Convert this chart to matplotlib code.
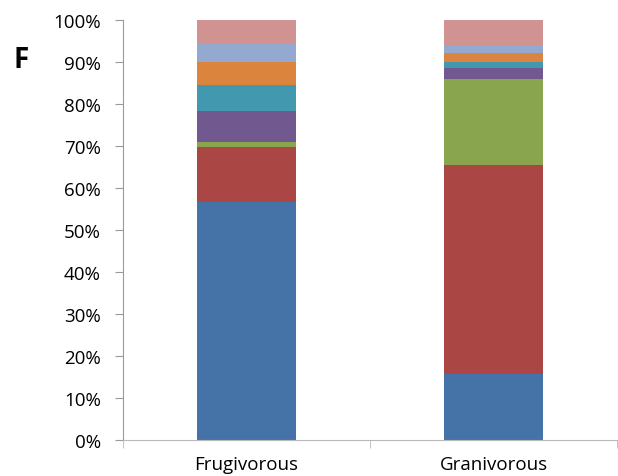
import matplotlib.pyplot as plt
import numpy as np

# Diet categories and stacked percentages (bottom to top)
categories = ['Frugivorous', 'Granivorous']
blue = [56.7, 15.7]
red = [13.1, 49.8]
green = [1.2, 20.5]
purple = [7.3, 2.6]
teal = [6.2, 1.5]
orange = [5.6, 2.0]
light_blue = [4.3, 1.8]
pink = [5.6, 6.1]

series = [blue, red, green, purple, teal, orange, light_blue, pink]
colors = ['#4572A7', '#AA4643', '#89A54E', '#71588F',
          '#4198AF', '#DB843D', '#93A9CF', '#D19392']

plt.rcParams['font.family'] = ['Open Sans', 'DejaVu Sans']

fig = plt.figure(figsize=(6.18, 4.77), dpi=100)
ax = fig.add_axes([123 / 618, 36 / 477, 494 / 618, 420 / 477])

x = np.arange(len(categories))
bottom = np.zeros(len(categories))
for vals, c in zip(series, colors):
    ax.bar(x, vals, width=0.4, bottom=bottom, color=c, edgecolor='none')
    bottom += np.array(vals)

ax.set_xlim(-0.5, 1.5)
ax.set_ylim(0, 100)
ax.set_yticks(np.arange(0, 101, 10))
ax.set_yticklabels([f'{v}%' for v in range(0, 101, 10)], fontsize=13.5)
ax.set_xticks(x)
ax.set_xticklabels(categories, fontsize=13.5)
ax.set_xticks([-0.5, 0.5, 1.5], minor=True)

for s in ['top', 'right']:
    ax.spines[s].set_visible(False)
ax.spines['left'].set_color('#9a9a9a')
ax.spines['bottom'].set_color('#b8b8b8')
ax.tick_params(axis='y', length=6, color='#9a9a9a', pad=10)
ax.tick_params(axis='x', which='major', length=0, pad=11)
ax.tick_params(axis='x', which='minor', length=6, color='#b8b8b8')

fig.text(14 / 618, 1 - 60 / 477, 'F', fontsize=20, fontweight='bold', va='center')

fig.savefig('out.png', dpi=100)
